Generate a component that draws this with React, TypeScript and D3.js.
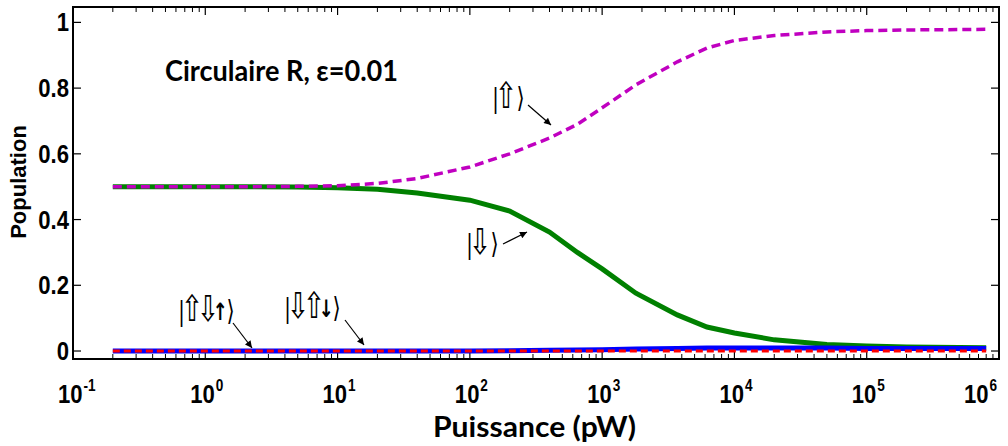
import React from "react";
import * as d3 from "d3";

const power = [0.2, 0.5, 1, 2, 5, 10, 20, 40, 100, 200, 400, 650, 1000, 1800, 3700, 6200, 10000, 20000, 50000, 100000, 200000, 500000, 800000];
const popUp = [0.5, 0.5, 0.5, 0.5, 0.501, 0.503, 0.51, 0.525, 0.56, 0.6, 0.648, 0.69, 0.74, 0.81, 0.88, 0.922, 0.945, 0.96, 0.971, 0.975, 0.977, 0.978, 0.979];
const popDown = [0.5, 0.5, 0.5, 0.5, 0.499, 0.497, 0.492, 0.481, 0.459, 0.426, 0.362, 0.3, 0.25, 0.176, 0.11, 0.073, 0.055, 0.034, 0.02, 0.015, 0.012, 0.011, 0.01];
const popUDu = [0, 0, 0, 0, 0, 0, 0, 0, 0, 0.001, 0.002, 0.003, 0.004, 0.006, 0.008, 0.009, 0.009, 0.009, 0.009, 0.008, 0.008, 0.008, 0.008];
const popDUd = [0, 0, 0, 0, 0, 0, 0, 0, 0, 0, 0, 0, 0, 0, 0, 0, 0, 0, 0, 0, 0, 0, 0];

const yTicks = [0, 0.2, 0.4, 0.6, 0.8, 1];
const yTickLabels = ["0", "0.2", "0.4", "0.6", "0.8", "1"];
const xDecades = [-1, 0, 1, 2, 3, 4, 5, 6];

const title = "Circulaire R, \u03b5=0.01";
const xTitle = "Puissance (pW)";
const yTitle = "Population";

const kets = [
  { glyphs: ["|", "\u21e7", "\u27e9"], x: 493, y: 107, from: [528, 105], to: [551, 125] },
  { glyphs: ["|", "\u21e9", "\u27e9"], x: 467, y: 253, from: [503, 244], to: [527, 232] },
  { glyphs: ["|", "\u21e7", "\u21e9", "\u2191", "\u27e9"], x: 179, y: 320, from: [233, 323], to: [252, 348] },
  { glyphs: ["|", "\u21e9", "\u21e7", "\u2193", "\u27e9"], x: 285, y: 317, from: [345, 320], to: [364, 345] },
];

const L = 73, R = 999, T = 7, B = 359;
const KS = 0.75;

function glyphStyle(g: string) {
  if (g === "|") return { w: 5, size: 26, weight: "normal", dy: 0 };
  if (g === "\u27e9") return { w: 13, size: 28, weight: "normal", dy: 0 };
  if (g === "\u2191" || g === "\u2193") return { w: 8, size: 24, weight: "bold", dy: 0 };
  return { w: 16, size: 36, weight: "normal", dy: 1 };
}

function Ket({ glyphs, x, y }: { glyphs: string[]; x: number; y: number }) {
  let cx = 0;
  const parts = glyphs.map((g) => {
    const s = glyphStyle(g);
    const c = cx + s.w / 2;
    cx += s.w;
    return { g, s, c };
  });
  return (
    <text transform={`translate(${x},${y}) scale(${KS},1)`} fontFamily="'DejaVu Sans', sans-serif" fill="#000">
      {parts.map((p, i) => (
        <tspan key={i} x={p.c / KS} y={p.s.dy} textAnchor="middle" fontSize={p.s.size} fontWeight={p.s.weight}>{p.g}</tspan>
      ))}
    </text>
  );
}

export default function App() {
  const x = d3.scaleLog().domain([0.1, 1e6]).range([L, R]);
  const y = d3.scaleLinear().domain([-0.0243, 1.0468]).range([B, T]);
  const line = (vals: number[]) =>
    d3.line<number>().x((_, i) => x(power[i])).y((v) => y(v))(vals) || "";

  const minor: number[] = [];
  for (let d = -1; d < 6; d++) for (let k = 2; k <= 9; k++) minor.push(k * Math.pow(10, d));

  const tickFont = "'Liberation Sans', Arial, sans-serif";
  const sx = 0.85;

  return (
    <svg width={1008} height={446} style={{ position: "absolute", left: 0, top: 0, background: "#fff" }}>
      <defs>
        <marker id="ah" viewBox="0 0 10 10" refX="10" refY="5" markerWidth="9" markerHeight="7" markerUnits="userSpaceOnUse" orient="auto">
          <path d="M0,0 L10,5 L0,10 z" fill="#000" />
        </marker>
      </defs>
      <rect x={0} y={0} width={1008} height={446} fill="#fff" />
      {yTicks.map((t) => (
        <g key={"yt" + t}>
          <line x1={L} x2={L + 8} y1={y(t)} y2={y(t)} stroke="#000" strokeWidth={1.2} />
          <line x1={R - 8} x2={R} y1={y(t)} y2={y(t)} stroke="#000" strokeWidth={1.2} />
        </g>
      ))}
      {xDecades.map((d) => {
        const px = x(Math.pow(10, d));
        return (
          <g key={"xd" + d}>
            <line x1={px} x2={px} y1={B} y2={B - 8} stroke="#000" strokeWidth={1.2} />
            <line x1={px} x2={px} y1={T} y2={T + 8} stroke="#000" strokeWidth={1.2} />
          </g>
        );
      })}
      {minor.map((m) => {
        const px = x(m);
        return (
          <g key={"xm" + m}>
            <line x1={px} x2={px} y1={B} y2={B - 5} stroke="#000" strokeWidth={1} />
            <line x1={px} x2={px} y1={T} y2={T + 5} stroke="#000" strokeWidth={1} />
          </g>
        );
      })}
      <path d={line(popDown)} fill="none" stroke="#008000" strokeWidth={5} />
      <path d={line(popUp)} fill="none" stroke="#c000c0" strokeWidth={3.5} strokeDasharray="9,5" />
      <path d={line(popUDu)} fill="none" stroke="#0000ff" strokeWidth={5} />
      <path d={line(popDUd)} fill="none" stroke="#ff0000" strokeWidth={3} strokeDasharray="7,4" />
      <rect x={L} y={T} width={R - L} height={B - T} fill="none" stroke="#000" strokeWidth={2} />
      {yTicks.map((t, i) => (
        <text key={"yl" + t} transform={`translate(69,${y(t) + 9}) scale(${sx},1)`} textAnchor="end"
          fontFamily={tickFont} fontWeight="bold" fontSize={26} fill="#000">{yTickLabels[i]}</text>
      ))}
      {xDecades.map((d) => {
        const px = x(Math.pow(10, d));
        const start = Math.min(px - 15, 1004 - (d < 0 ? 46 : 40));
        return (
          <text key={"xl" + d} transform={`translate(${start},403) scale(${sx},1)`} fontFamily={tickFont} fontWeight="bold" fill="#000">
            <tspan x={0} y={0} fontSize={26}>10</tspan>
            <tspan x={30} y={-12} fontSize={16}>{String(d)}</tspan>
          </text>
        );
      })}
      <text x={433} y={437} textLength={203} lengthAdjust="spacingAndGlyphs" fontFamily="Lato, 'Open Sans', sans-serif"
        fontWeight="bold" fontSize={28} fill="#000">{xTitle}</text>
      <text transform={`translate(26,182) rotate(-90)`} textAnchor="middle" fontFamily={tickFont}
        fontWeight="bold" fontSize={22} fill="#000">{yTitle}</text>
      <text x={165} y={81} textLength={233} lengthAdjust="spacingAndGlyphs" fontFamily="Lato, 'Open Sans', sans-serif"
        fontWeight="bold" fontSize={28} fill="#000">{title}</text>
      {kets.map((k, i) => (
        <g key={"k" + i}>
          <Ket glyphs={k.glyphs} x={k.x} y={k.y} />
          <line x1={k.from[0]} y1={k.from[1]} x2={k.to[0]} y2={k.to[1]} stroke="#000" strokeWidth={1.2} markerEnd="url(#ah)" />
        </g>
      ))}
    </svg>
  );
}
